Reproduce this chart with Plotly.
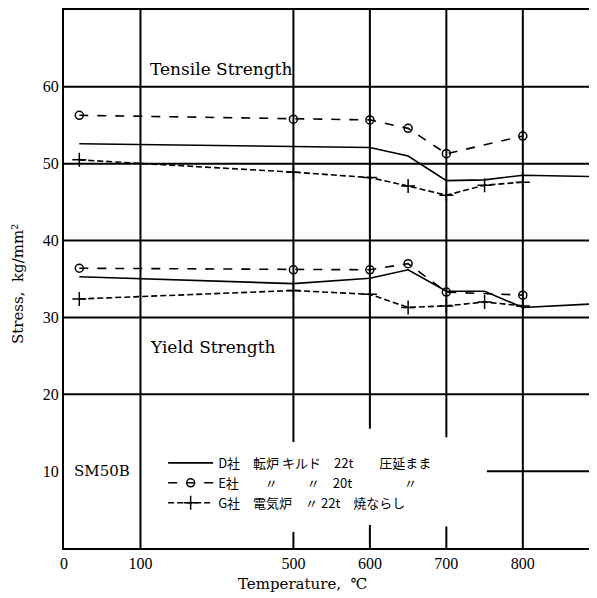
import plotly.graph_objects as go

# ---------------- data ----------------
x_tick_temps = [0, 100, 500, 600, 700, 800]
x_tick_labels = ["0", "100", "500", "600", "700", "800"]
y_tick_vals = [10, 20, 30, 40, 50, 60]

names = ["D社　転炉 キルド　22t　　圧延まま",
         "E社　　〃　　 〃　20t　　　　〃",
         "G社　電気炉　〃 22t　焼ならし"]

# Tensile strength
d_ts_t = [20, 500, 600, 650, 700, 750, 800, 900]
d_ts_v = [52.6, 52.3, 52.1, 51.0, 47.8, 47.9, 48.5, 48.3]
e_ts_t = [20, 500, 600, 650, 700, 800]
e_ts_v = [56.3, 55.8, 55.7, 54.6, 51.3, 53.6]
g_ts_t = [20, 500, 600, 650, 700, 750, 800]
g_ts_v = [50.5, 48.9, 48.2, 47.1, 45.9, 47.2, 47.6]

# Yield strength
d_ys_t = [20, 500, 600, 650, 700, 750, 800, 900]
d_ys_v = [35.3, 34.4, 35.1, 36.2, 33.4, 33.4, 31.3, 31.8]
e_ys_t = [20, 500, 600, 650, 700, 800]
e_ys_v = [36.4, 36.2, 36.2, 37.0, 33.3, 32.9]
g_ys_t = [20, 500, 600, 650, 700, 750, 800]
g_ys_v = [32.4, 33.5, 33.0, 31.3, 31.5, 32.0, 31.5]


# broken temperature scale: 0-100 linear, 100-500 compressed (x0.5), 500+ linear
def tx(t):
    if t <= 100:
        return t
    if t <= 500:
        return 100 + (t - 100) * 0.5
    return 300 + (t - 500)


def txs(ts):
    return [tx(t) for t in ts]


SERIF = "Liberation Serif, DejaVu Serif, serif"
WSERIF = "DejaVu Serif, serif"
JP = "Noto Sans CJK JP, sans-serif"

fig = go.Figure()

styles = [
    dict(dash="solid", symbol=None),
    dict(dash="dash", symbol="circle-open"),
    dict(dash="6px,3px", symbol="cross-thin-open"),
]
ts_sets = [(d_ts_t, d_ts_v), (e_ts_t, e_ts_v), (g_ts_t, g_ts_v)]
ys_sets = [(d_ys_t, d_ys_v), (e_ys_t, e_ys_v), (g_ys_t, g_ys_v)]

for i in range(3):
    st = styles[i]
    mode = "lines" if st["symbol"] is None else "lines+markers"
    marker = dict(color="black", size=8 if i == 1 else 10,
                  symbol=st["symbol"] or "circle",
                  line=dict(color="black", width=1.5))
    for k, (tt, vv) in enumerate([ts_sets[i], ys_sets[i]]):
        fig.add_trace(go.Scatter(
            x=txs(tt), y=vv, mode=mode, name=names[i],
            legendgroup=f"g{i}", showlegend=(k == 0),
            line=dict(color="black", width=1.6, dash=st["dash"]),
            marker=marker,
        ))

# grid lines (drawn as shapes to reproduce the gaps around the legend)
shapes = []
xmax = 697
for v in [20, 30, 40, 50, 60]:
    shapes.append(dict(type="line", xref="x", yref="y", x0=0, x1=xmax, y0=v, y1=v,
                       line=dict(color="black", width=2)))
shapes.append(dict(type="line", xref="x", yref="y", x0=tx(753), x1=xmax, y0=10, y1=10,
                   line=dict(color="black", width=2)))
for t in [100, 800]:
    shapes.append(dict(type="line", xref="x", yref="y", x0=tx(t), x1=tx(t), y0=0, y1=70,
                       line=dict(color="black", width=2)))
for t, bot, stub in [(500, 13.8, 2.1), (600, 15.5, 3.0), (700, 14.4, 2.8)]:
    shapes.append(dict(type="line", xref="x", yref="y", x0=tx(t), x1=tx(t), y0=bot, y1=70,
                       line=dict(color="black", width=2)))
    shapes.append(dict(type="line", xref="x", yref="y", x0=tx(t), x1=tx(t), y0=0, y1=stub,
                       line=dict(color="black", width=2)))

annotations = [
    dict(x=tx(120), y=62.3, xref="x", yref="y", text="Tensile Strength", showarrow=False,
         xanchor="left", yanchor="middle", font=dict(family=WSERIF, size=17, color="black")),
    dict(x=tx(120), y=26.2, xref="x", yref="y", text="Yield Strength", showarrow=False,
         xanchor="left", yanchor="middle", font=dict(family=WSERIF, size=17, color="black")),
    dict(x=tx(10), y=10, xref="x", yref="y", text="SM50B", showarrow=False,
         xanchor="left", yanchor="middle", font=dict(family=WSERIF, size=15, color="black")),
    dict(x=0.447, y=-0.066, xref="paper", yref="paper", text="Temperature,  ℃", showarrow=False,
         xanchor="center", yanchor="middle", font=dict(family=WSERIF, size=15, color="black")),
    dict(x=-0.085, y=0.49, xref="paper", yref="paper", text="Stress,  kg/mm²", showarrow=False,
         textangle=-90, xanchor="center", yanchor="middle",
         font=dict(family=WSERIF, size=15, color="black")),
]

# the page body has an 8px default margin, so the figure is sized to fit the window
fig.update_layout(
    width=589, height=590,
    margin=dict(l=56, r=0, t=2, b=50),
    paper_bgcolor="white", plot_bgcolor="white",
    shapes=shapes, annotations=annotations,
    showlegend=True,
    legend=dict(x=0.186, y=0.186, xanchor="left", yanchor="top",
                bgcolor="rgba(0,0,0,0)", borderwidth=0,
                font=dict(family=JP, size=13, color="black"),
                itemwidth=45, tracegroupgap=0),
    xaxis=dict(range=[0, xmax], tickvals=[tx(t) for t in x_tick_temps], ticktext=x_tick_labels,
               showgrid=False, zeroline=False, showline=True, mirror=True,
               linecolor="black", linewidth=2, ticks="", automargin=False,
               tickfont=dict(family=SERIF, size=16, color="black")),
    yaxis=dict(range=[0, 70], tickvals=y_tick_vals, showgrid=False, zeroline=False,
               showline=True, linecolor="black", linewidth=2, ticks="", automargin=False,
               tickfont=dict(family=SERIF, size=16, color="black")),
)

fig.write_html("out.html")
